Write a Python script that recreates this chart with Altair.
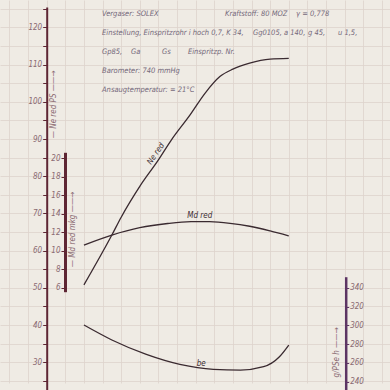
import altair as alt
import pandas as pd

# --- data (n in U/min) ---
ne_rpm = [1000, 1300, 1400, 1600, 1800, 1940, 2140, 2300, 2460, 2600, 2780, 3000, 3200]
ne_red = [50.8, 64.2, 69.0, 77.3, 84.4, 89.8, 96.5, 102.3, 106.8, 108.8, 110.4, 111.5, 111.7]

md_rpm = [1000, 1300, 1600, 1900, 2150, 2350, 2570, 2780, 3000, 3200]
md_red = [10.62, 11.70, 12.50, 12.95, 13.14, 13.14, 12.97, 12.65, 12.14, 11.60]

be_rpm = [1000, 1300, 1670, 2030, 2390, 2680, 2930, 3100, 3200]
be_val = [300.3, 284.4, 269.1, 258.5, 253.2, 252.4, 256.0, 266.6, 279.0]

ne_ticks = list(range(25, 126, 5))
md_ticks = [6, 8, 10, 12, 14, 16, 18, 20]
be_ticks = [240, 260, 280, 300, 320, 340]
grid_x = list(range(200, 4201, 200))

header_text = [
    "Vergaser:  SOLEX", "Kraftstoff:  80 MOZ", "γ = 0,778",
    "Einstellung, Einspritzrohr i hoch 0,7, K 34,", "Gg0105, a 140,", "g 45,", "u 1,5,",
    "Gp85,", "Ga", "Gs", "Einspritzp. Nr.",
    "Barometer:  740 mmHg",
    "Ansaugtemperatur:  = 21°C",
]
header_rpm = [1194, 2515, 3278, 1194, 2816, 3407, 3729, 1194, 1506, 1838, 2117, 1194, 1194]
header_ne = [123.5, 123.5, 123.5, 118.5, 118.5, 118.5, 118.5, 113.4, 113.4, 113.4, 113.4, 108.3, 103.3]

curve_labels = ["Md red", "be"]
curve_label_rpm = [2109, 2211]
curve_label_ne = [69.3, 29.6]

ne_label = ["Ne red"]
ne_label_rpm = [1775]
ne_label_ne = [86.0]

# --- styles ---
INK = "#3a2a30"
AXIS_RED = "#5e2634"
AXIS_PURPLE = "#5c3463"
LABEL = "#8a6a72"
TEXT = "#74687a"
GRID = "#ddd3cc"
FONT = "DejaVu Sans Condensed, Liberation Sans, sans-serif"

x_enc = alt.X(
    "rpm:Q",
    scale=alt.Scale(domain=[98.4, 4287.4], nice=False, zero=False),
    axis=alt.Axis(values=grid_x, labels=False, ticks=False, domain=False, grid=True,
                  gridColor=GRID, gridWidth=0.8, title=None),
)

ne_scale = alt.Scale(domain=[22.55, 125.51], range=[390, 7], nice=False, zero=False)
ne_axis = alt.Axis(
    orient="left", offset=-46.7, values=ne_ticks,
    labelExpr="datum.value % 10 == 0 ? datum.label : ''",
    grid=True, gridColor=GRID, gridWidth=0.8,
    domainColor=AXIS_RED, domainWidth=2, tickColor=AXIS_RED, tickSize=4, tickWidth=1,
    labelColor=LABEL, labelFont=FONT, labelFontStyle="italic", labelFontSize=8, labelPadding=1,
    title="—  Ne red      PS  ——→", titleAngle=270, titleX=6.5, titleY=104,
    titleAlign="center", titleBaseline="middle", titleFont=FONT, titleFontStyle="italic",
    titleFontWeight="normal", titleFontSize=8, titleColor=LABEL,
)
y_ne = alt.Y("ne:Q", scale=ne_scale, axis=ne_axis)

ne_df = pd.DataFrame({"rpm": ne_rpm, "ne": ne_red})
ne_line = alt.Chart(ne_df).mark_line(color=INK, strokeWidth=1.3, interpolate="monotone").encode(x=x_enc, y=y_ne)

hdr_df = pd.DataFrame({"rpm": header_rpm, "ne": header_ne, "t": header_text})
hdr = alt.Chart(hdr_df).mark_text(align="left", baseline="middle", font=FONT, fontStyle="italic",
                                  fontSize=7.5, color=TEXT).encode(x=x_enc, y=y_ne, text="t:N")

cl_df = pd.DataFrame({"rpm": curve_label_rpm, "ne": curve_label_ne, "t": curve_labels})
cl = alt.Chart(cl_df).mark_text(align="left", baseline="middle", font=FONT, fontStyle="italic",
                                fontSize=8, color=INK).encode(x=x_enc, y=y_ne, text="t:N")

nl_df = pd.DataFrame({"rpm": ne_label_rpm, "ne": ne_label_ne, "t": ne_label})
nl = alt.Chart(nl_df).mark_text(align="center", baseline="middle", font=FONT, fontStyle="italic",
                                fontSize=8, color=INK, angle=304).encode(x=x_enc, y=y_ne, text="t:N")

ne_group = alt.layer(ne_line, hdr, cl, nl)

md_df = pd.DataFrame({"rpm": md_rpm, "md": md_red})
md_line = alt.Chart(md_df).mark_line(color=INK, strokeWidth=1.3, interpolate="monotone").encode(
    x=x_enc,
    y=alt.Y("md:Q",
            scale=alt.Scale(domain=[5.57, 20.65], range=[291.7, 152.3], nice=False, zero=False),
            axis=alt.Axis(
                orient="left", offset=-65, values=md_ticks, grid=False,
                domainColor=AXIS_RED, domainWidth=3, tickColor=AXIS_RED, tickSize=4,
                labelColor=LABEL, labelFont=FONT, labelFontStyle="italic", labelFontSize=8,
                labelPadding=1,
                title="—  Md red    mkg  ——→", titleAngle=270, titleX=7, titleY=229,
                titleAlign="center", titleBaseline="middle", titleFont=FONT,
                titleFontStyle="italic", titleFontWeight="normal", titleFontSize=8,
                titleColor=LABEL)),
)

be_df = pd.DataFrame({"rpm": be_rpm, "be": be_val})
be_line = alt.Chart(be_df).mark_line(color=INK, strokeWidth=1.3, interpolate="monotone").encode(
    x=x_enc,
    y=alt.Y("be:Q",
            scale=alt.Scale(domain=[231.2, 351.7], range=[390, 276.7], nice=False, zero=False),
            axis=alt.Axis(
                orient="right", offset=-44.3, values=be_ticks, grid=False,
                domainColor=AXIS_PURPLE, domainWidth=2.5, tickColor=AXIS_PURPLE, tickSize=3,
                labelColor=LABEL, labelFont=FONT, labelFontStyle="italic", labelFontSize=8,
                labelPadding=1,
                title="g/PSe h  ——→", titleAngle=270, titleX=-9, titleY=352,
                titleAlign="center", titleBaseline="middle", titleFont=FONT,
                titleFontStyle="italic", titleFontWeight="normal", titleFontSize=8,
                titleColor=LABEL)),
)

chart = alt.layer(ne_group, md_line, be_line).resolve_scale(y="independent").properties(
    width=390, height=390, background="#efebe4", padding=0,
    autosize=alt.AutoSizeParams(type="none"),
).configure_view(stroke=None)

chart.save("out.html", embed_options={"renderer": "svg", "actions": False})
